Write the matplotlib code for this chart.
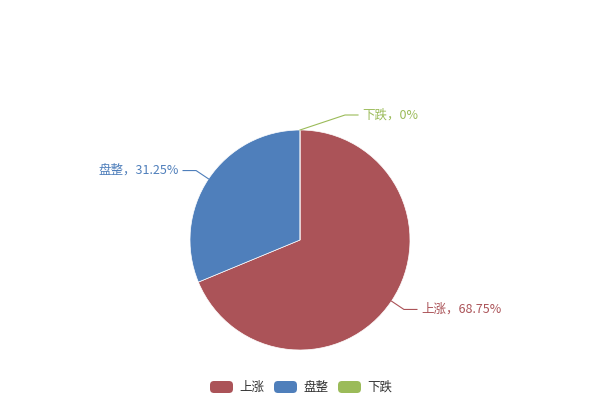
import matplotlib
matplotlib.use("Agg")
import matplotlib.pyplot as plt
from matplotlib.patches import FancyBboxPatch
import numpy as np

plt.rcParams['font.family'] = ['Noto Sans CJK SC', 'DejaVu Sans']

labels = ["上涨", "盘整", "下跌"]
values = [68.75, 31.25, 0.0]
pct_text = ["68.75%", "31.25%", "0%"]
colors = ["#AB5358", "#4F7FBB", "#9BBB59"]

fig = plt.figure(figsize=(6, 4), dpi=100)
ax = fig.add_axes([0, 0, 1, 1])
ax.set_xlim(0, 600)
ax.set_ylim(0, 400)
ax.set_aspect('equal')
ax.axis('off')

cx, cy, r = 300, 160, 110
wedges, _ = ax.pie(values, colors=colors, startangle=90, counterclock=False,
                   center=(cx, cy), radius=r, frame=True,
                   wedgeprops=dict(edgecolor='white', linewidth=0.5))
ax.set_xlim(0, 600)
ax.set_ylim(0, 400)
ax.axis('off')

# label lines
elbow_shift = [0, 0, 45]
for i, w in enumerate(wedges):
    ang = np.deg2rad((w.theta1 + w.theta2) / 2)
    x0, y0 = cx + r * np.cos(ang), cy + r * np.sin(ang)
    x1, y1 = cx + (r + 15) * np.cos(ang) + elbow_shift[i], cy + (r + 15) * np.sin(ang)
    side = 1 if x1 >= cx else -1
    x2 = x1 + side * 13
    ax.plot([x0, x1, x2], [y0, y1, y1], color=colors[i], lw=0.8)
    ax.text(x2 + side * 4, y1, labels[i] + "，" + pct_text[i], color=colors[i],
            fontsize=9, ha='left' if side > 0 else 'right', va='center')

# legend
lx = 209
for i, lab in enumerate(labels):
    ax.add_patch(FancyBboxPatch((lx + 64 * i + 1, 7), 23, 12,
                                boxstyle="round,pad=0,rounding_size=4",
                                facecolor=colors[i], edgecolor='none'))
    ax.text(lx + 64 * i + 30, 13, lab, color='#333333', fontsize=9,
            ha='left', va='center')

fig.savefig("out.png", dpi=100)
